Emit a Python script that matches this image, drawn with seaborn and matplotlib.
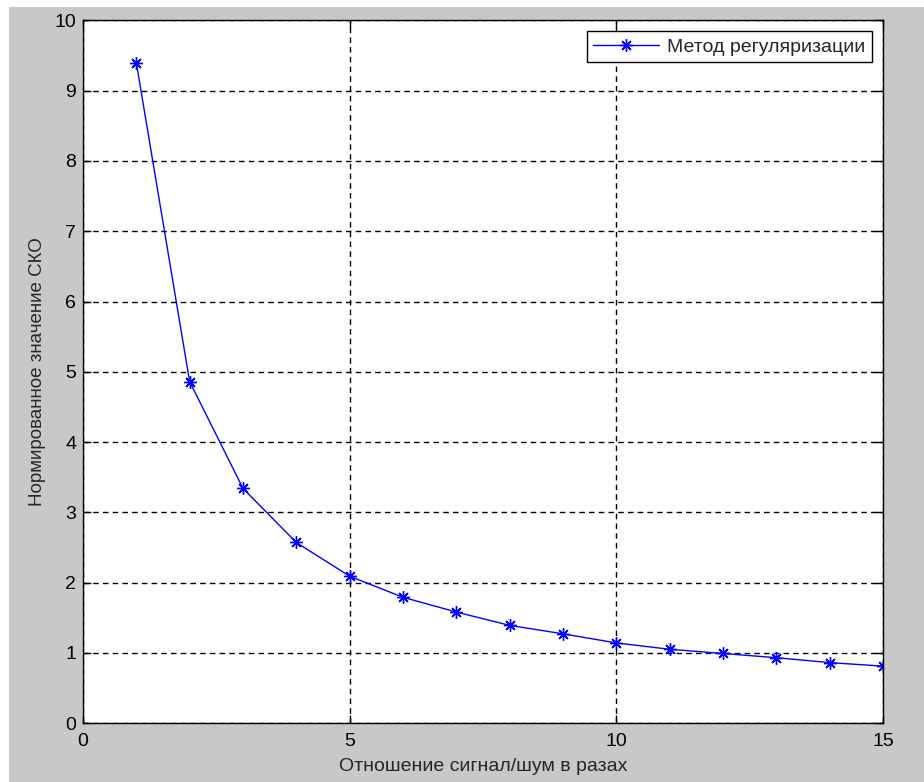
import pandas as pd
import matplotlib
matplotlib.use("Agg")
import matplotlib.pyplot as plt
import seaborn as sns
from matplotlib.patches import Rectangle

# Отношение сигнал/шум и нормированное СКО
snr = [1, 2, 3, 4, 5, 6, 7, 8, 9, 10, 11, 12, 13, 14, 15]
rmse = [9.40, 4.86, 3.34, 2.57, 2.09, 1.79, 1.58, 1.39, 1.27,
        1.14, 1.05, 0.99, 0.93, 0.86, 0.81]
label = 'Метод регуляризации'
x_ticks = [0, 5, 10, 15]
y_ticks = list(range(0, 11))

df = pd.DataFrame({'snr': snr, 'rmse': rmse, 'method': label})

sns.set_style('ticks')
plt.rcParams['font.family'] = ['Liberation Sans', 'DejaVu Sans']

fig = plt.figure(figsize=(9.24, 7.82), dpi=100, facecolor='white')
# gray window area (thin white strip at the top and left, as in the screenshot)
fig.patches.append(Rectangle((9 / 924, 0), 1, 1 - 7 / 782, transform=fig.transFigure,
                             facecolor='#c8c8c8', edgecolor='none', zorder=-10))
ax = fig.add_axes([0.0898, 0.0754, 0.8658, 0.8984])
ax.set_facecolor('white')

sns.lineplot(data=df, x='snr', y='rmse', hue='method', palette=['#0000ff'],
             marker=(8, 2, 0), markersize=9, markeredgecolor='#0000ff',
             markeredgewidth=1, linewidth=1, ax=ax)

ax.set_xlim(0, 15)
ax.set_ylim(0, 10)
ax.set_xticks(x_ticks)
ax.set_yticks(y_ticks)
ax.grid(True, color='black', linestyle=(0, (4, 3)), linewidth=1)
ax.tick_params(direction='in', top=True, right=True, length=6,
               labelsize=14, colors='black', width=1)
ax.tick_params(axis='x', pad=7)
ax.tick_params(axis='y', pad=5)
for s in ax.spines.values():
    s.set_color('black')
    s.set_linewidth(1)

ax.set_xlabel('Отношение сигнал/шум в разах', fontsize=14, labelpad=6)
ax.set_ylabel('Нормированное значение СКО', fontsize=13.5, labelpad=6)

leg = ax.legend(loc='upper right', fontsize=14, frameon=True, fancybox=False,
                edgecolor='black', framealpha=1, borderaxespad=0.55,
                handlelength=3.4, handletextpad=0.4, borderpad=0.35)
leg.get_frame().set_linewidth(1)

fig.savefig('out.png', dpi=100, facecolor=fig.get_facecolor())
